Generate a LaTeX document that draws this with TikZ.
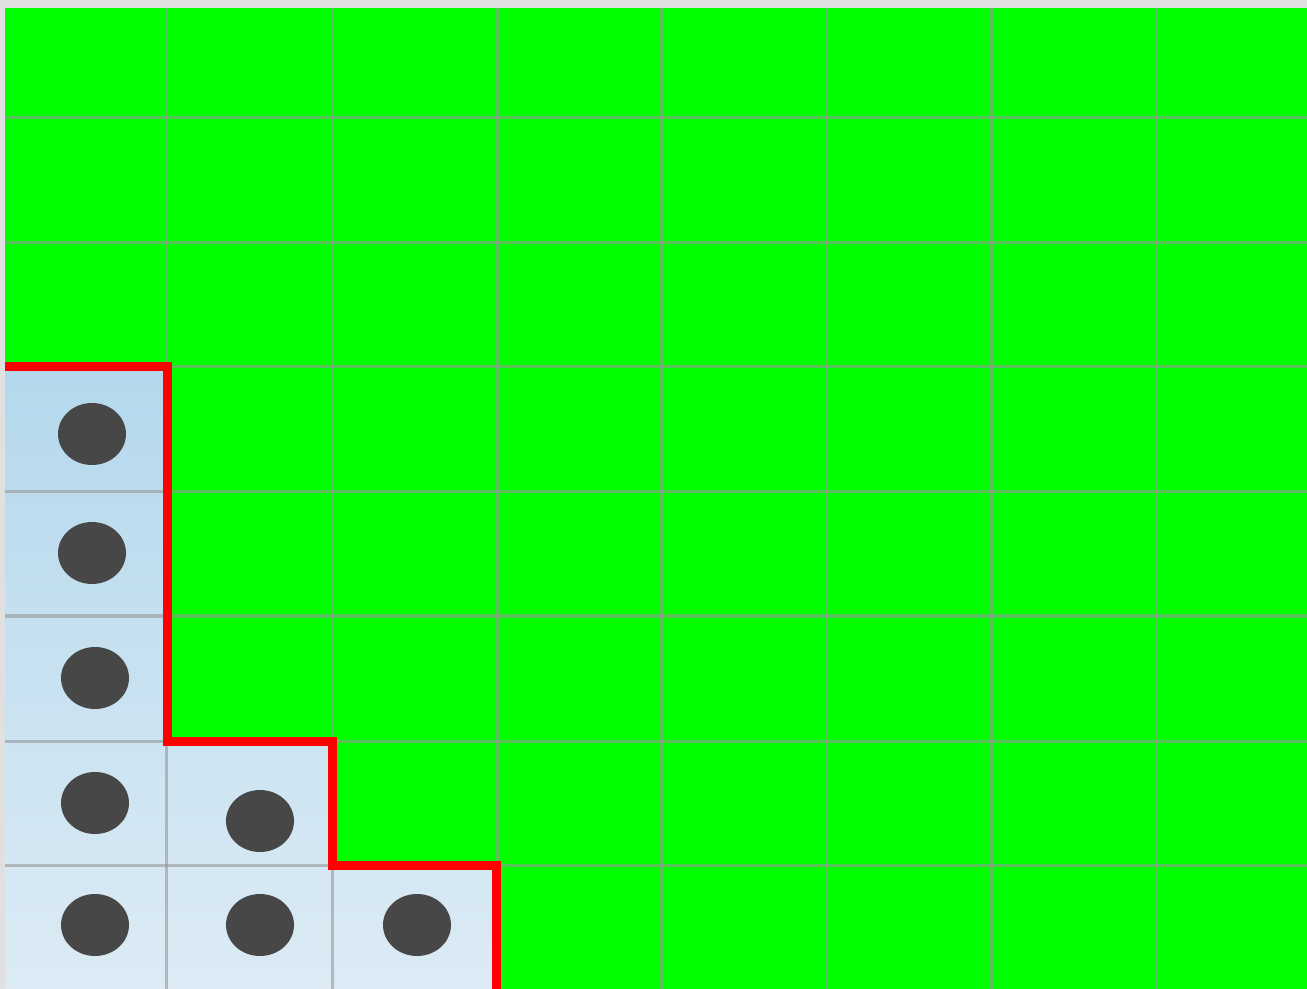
\documentclass[tikz,border=0pt]{standalone}
\usetikzlibrary{calc}
\definecolor{frame}{RGB}{224,224,224}
\definecolor{field}{RGB}{0,255,0}
\definecolor{celltop}{RGB}{180,216,236}
\definecolor{cellbottom}{RGB}{220,235,245}
\definecolor{dot}{RGB}{71,71,71}
\definecolor{gridline}{RGB}{150,150,150}
\begin{document}
\begin{tikzpicture}[x=0.01cm, y=-0.01cm,
    gridrule/.style={draw=gridline, draw opacity=0.6, line width=0.03cm},
    border/.style={draw=red, line width=0.09cm, line join=miter},
    stone/.style={fill=dot}]
    \useasboundingbox (0,0) rectangle (1307,989);
    \fill[frame] (0,0) rectangle (1307,989);
    \fill[field] (5,8) rectangle (1307,989);
    % blue region
    \shade[top color=celltop, bottom color=cellbottom]
        (5,367) -- (166,367) -- (166,741) -- (332,741) -- (332,865)
        -- (497,865) -- (497,989) -- (5,989) -- cycle;
    % grid
    \begin{scope}
        \clip (5,8) rectangle (1307,989);
        \foreach \gx in {166,332,497,661,826,991,1156}
            \draw[gridrule] (\gx,8) -- (\gx,989);
        \foreach \gy in {118,243,367,492,616,741,865}
            \draw[gridrule] (5,\gy) -- (1307,\gy);
        % boundary
        \draw[border] (0,367) -- (167,367) -- (167,741) -- (332,741)
            -- (332,865) -- (496,865) -- (496,995);
    \end{scope}
    % stones
    \foreach \sx/\sy in {92/434, 92/553, 95/678, 95/803, 95/925,
                         260/821, 260/925, 417/925}
        \fill[stone] (\sx,\sy) ellipse [x radius=34, y radius=31];
\end{tikzpicture}
\end{document}
